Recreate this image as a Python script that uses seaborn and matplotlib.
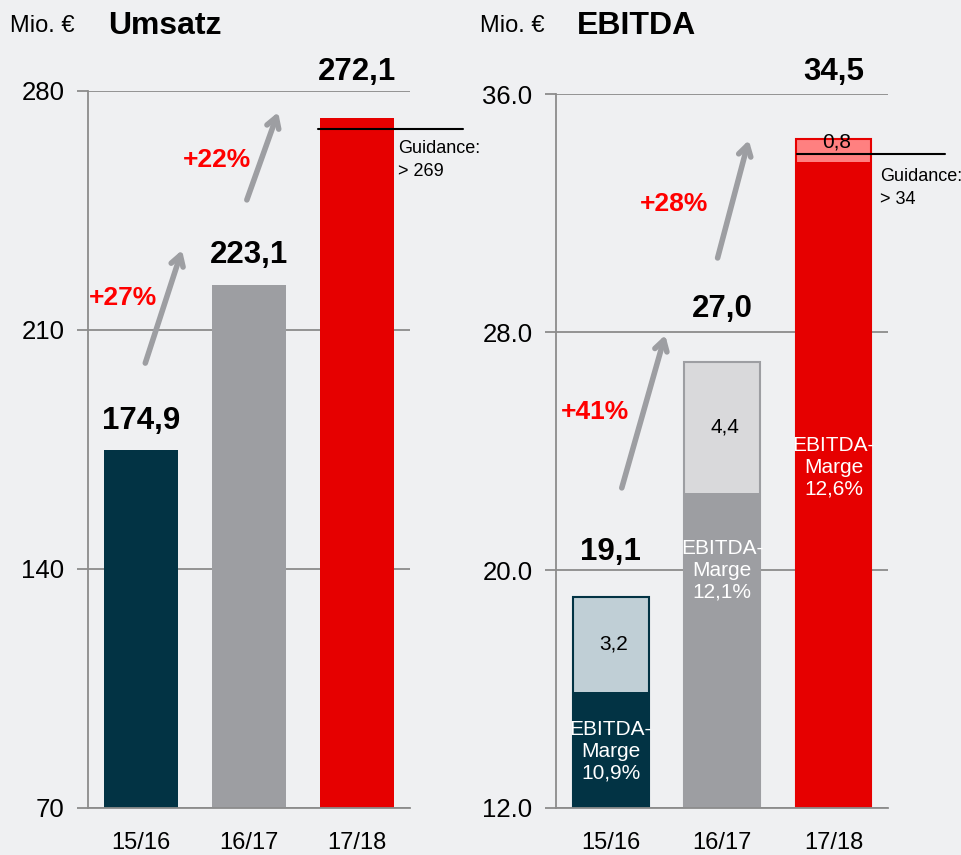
import matplotlib
matplotlib.use("Agg")
import matplotlib.pyplot as plt
import seaborn as sns

# data
years = ["15/16", "16/17", "17/18"]
umsatz = [174.9, 223.1, 272.1]
umsatz_labels = ["174,9", "223,1", "272,1"]
ebitda = [19.1, 27.0, 34.5]
ebitda_labels = ["19,1", "27,0", "34,5"]
ebitda_increase = [3.2, 4.4, 0.8]
increase_labels = ["3,2", "4,4", "0,8"]
margin_labels = ["10,9%", "12,1%", "12,6%"]
umsatz_growth = ["+27%", "+22%"]
ebitda_growth = ["+41%", "+28%"]
guidance_umsatz = 269
guidance_ebitda = 34

BG = "#eff0f2"
GRID = "#8c8c8c"
ARROW = "#9d9ea2"
main_colors = ["#023344", "#9d9ea2", "#e60000"]
light_colors = ["#c0cfd6", "#d9d9db", "#ff8080"]

sns.set_style("white", {"axes.facecolor": BG, "figure.facecolor": BG})
plt.rcParams["font.family"] = ["Liberation Sans", "DejaVu Sans"]
plt.rcParams["text.color"] = "black"
plt.rcParams["xtick.color"] = "black"
plt.rcParams["ytick.color"] = "black"

fig = plt.figure(figsize=(9.61, 8.55), dpi=100)
ax1 = fig.add_axes([0.0916, 0.055, 0.335, 0.8386])
ax2 = fig.add_axes([0.5786, 0.055, 0.3455, 0.835])


def style_axis(ax, ticks, fmt):
    ax.set_yticks(ticks)
    ax.set_yticklabels([fmt.format(t) for t in ticks], fontsize=18.5)
    ax.set_ylim(ticks[0], ticks[-1])
    ax.set_xlim(-0.49, 2.49)
    ax.grid(axis="y", color=GRID, linewidth=1.3)
    ax.set_axisbelow(True)
    for s in ["top", "right"]:
        ax.spines[s].set_visible(False)
    for s in ["left", "bottom"]:
        ax.spines[s].set_color(GRID)
        ax.spines[s].set_linewidth(1.3)
    ax.tick_params(axis="y", length=8, width=1.3, color=GRID, pad=9, left=True,
                   labelcolor="black")
    ax.tick_params(axis="x", length=0, pad=17, labelsize=17, labelcolor="black")
    ax.set_xlabel("")
    ax.set_ylabel("")


def arrow(ax, start, end):
    ax.annotate("", xy=end, xytext=start,
                arrowprops=dict(arrowstyle="->,head_length=0.75,head_width=0.45",
                                color=ARROW, lw=4, shrinkA=0, shrinkB=0,
                                capstyle="round", joinstyle="round"),
                annotation_clip=False)


# ---- Umsatz ----
sns.barplot(x=years, y=umsatz, hue=years, palette=main_colors, width=0.68,
            legend=False, ax=ax1, saturation=1, linewidth=0)
style_axis(ax1, [70, 140, 210, 280], "{:.0f}")
umsatz_offsets = [21, 22, 33]
for i, (v, lab) in enumerate(zip(umsatz, umsatz_labels)):
    ax1.annotate(lab, (i, v), xytext=(0, umsatz_offsets[i]), textcoords="offset points",
                 ha="center", va="center", fontsize=22.5, fontweight="bold",
                 annotation_clip=False)
ax1.plot([1.64, 2.98], [guidance_umsatz, guidance_umsatz], color="black", lw=1.5,
         clip_on=False, zorder=5)
ax1.text(2.38, 265.5, "Guidance:\n> 269", fontsize=13, va="top", ha="left",
         linespacing=1.45)
arrow(ax1, (0.04, 200.3), (0.38, 233.4))
arrow(ax1, (0.98, 248.1), (1.27, 273.8))
ax1.text(-0.17, 219.4, umsatz_growth[0], color="#ff0000", fontsize=19,
         fontweight="bold", ha="center", va="center")
ax1.text(0.70, 259.8, umsatz_growth[1], color="#ff0000", fontsize=19,
         fontweight="bold", ha="center", va="center")
fig.text(0.010, 0.970, "Mio. €", fontsize=17, va="center")
fig.text(0.113, 0.970, "Umsatz", fontsize=23, fontweight="bold", va="center")

# ---- EBITDA ----
sns.barplot(x=years, y=ebitda, hue=years, palette=light_colors, width=0.68,
            legend=False, ax=ax2, saturation=1)
for p, c in zip(ax2.patches, main_colors):
    p.set_edgecolor(c)
    p.set_linewidth(1.5)
ebitda_base = [t - d for t, d in zip(ebitda, ebitda_increase)]
sns.barplot(x=years, y=ebitda_base, hue=years, palette=main_colors, width=0.68,
            legend=False, ax=ax2, saturation=1, linewidth=0)
style_axis(ax2, [12, 20, 28, 36], "{:.1f}")
ebitda_offsets = [32, 38, 48]
for i, (v, lab) in enumerate(zip(ebitda, ebitda_labels)):
    ax2.annotate(lab, (i, v), xytext=(0, ebitda_offsets[i]), textcoords="offset points",
                 ha="center", va="center", fontsize=22.5, fontweight="bold",
                 annotation_clip=False)
inc_frac = [0.5, 0.5, 0.85]
for i, (b, d, lab) in enumerate(zip(ebitda_base, ebitda_increase, increase_labels)):
    ax2.text(i + 0.03, b + d * inc_frac[i], lab, ha="center", va="center", fontsize=15,
             zorder=6)
margin_y = [13.9, 20.0, 23.45]
for i, lab in enumerate(margin_labels):
    ax2.text(i, margin_y[i], "EBITDA-\nMarge\n" + lab, ha="center", va="center",
             fontsize=15, color="white", linespacing=1.2)
ax2.plot([1.67, 3.0], [guidance_ebitda, guidance_ebitda], color="black", lw=1.5,
         clip_on=False, zorder=5)
ax2.text(2.42, 33.5, "Guidance:\n> 34", fontsize=13, va="top", ha="left",
         linespacing=1.45)
arrow(ax2, (0.10, 22.76), (0.49, 27.9))
arrow(ax2, (0.96, 30.49), (1.24, 34.45))
ax2.text(-0.14, 25.3, ebitda_growth[0], color="#ff0000", fontsize=19,
         fontweight="bold", ha="center", va="center")
ax2.text(0.57, 32.3, ebitda_growth[1], color="#ff0000", fontsize=19,
         fontweight="bold", ha="center", va="center")
fig.text(0.499, 0.970, "Mio. €", fontsize=17, va="center")
fig.text(0.600, 0.970, "EBITDA", fontsize=23, fontweight="bold", va="center")

plt.savefig("out.png", dpi=100, facecolor=BG)
